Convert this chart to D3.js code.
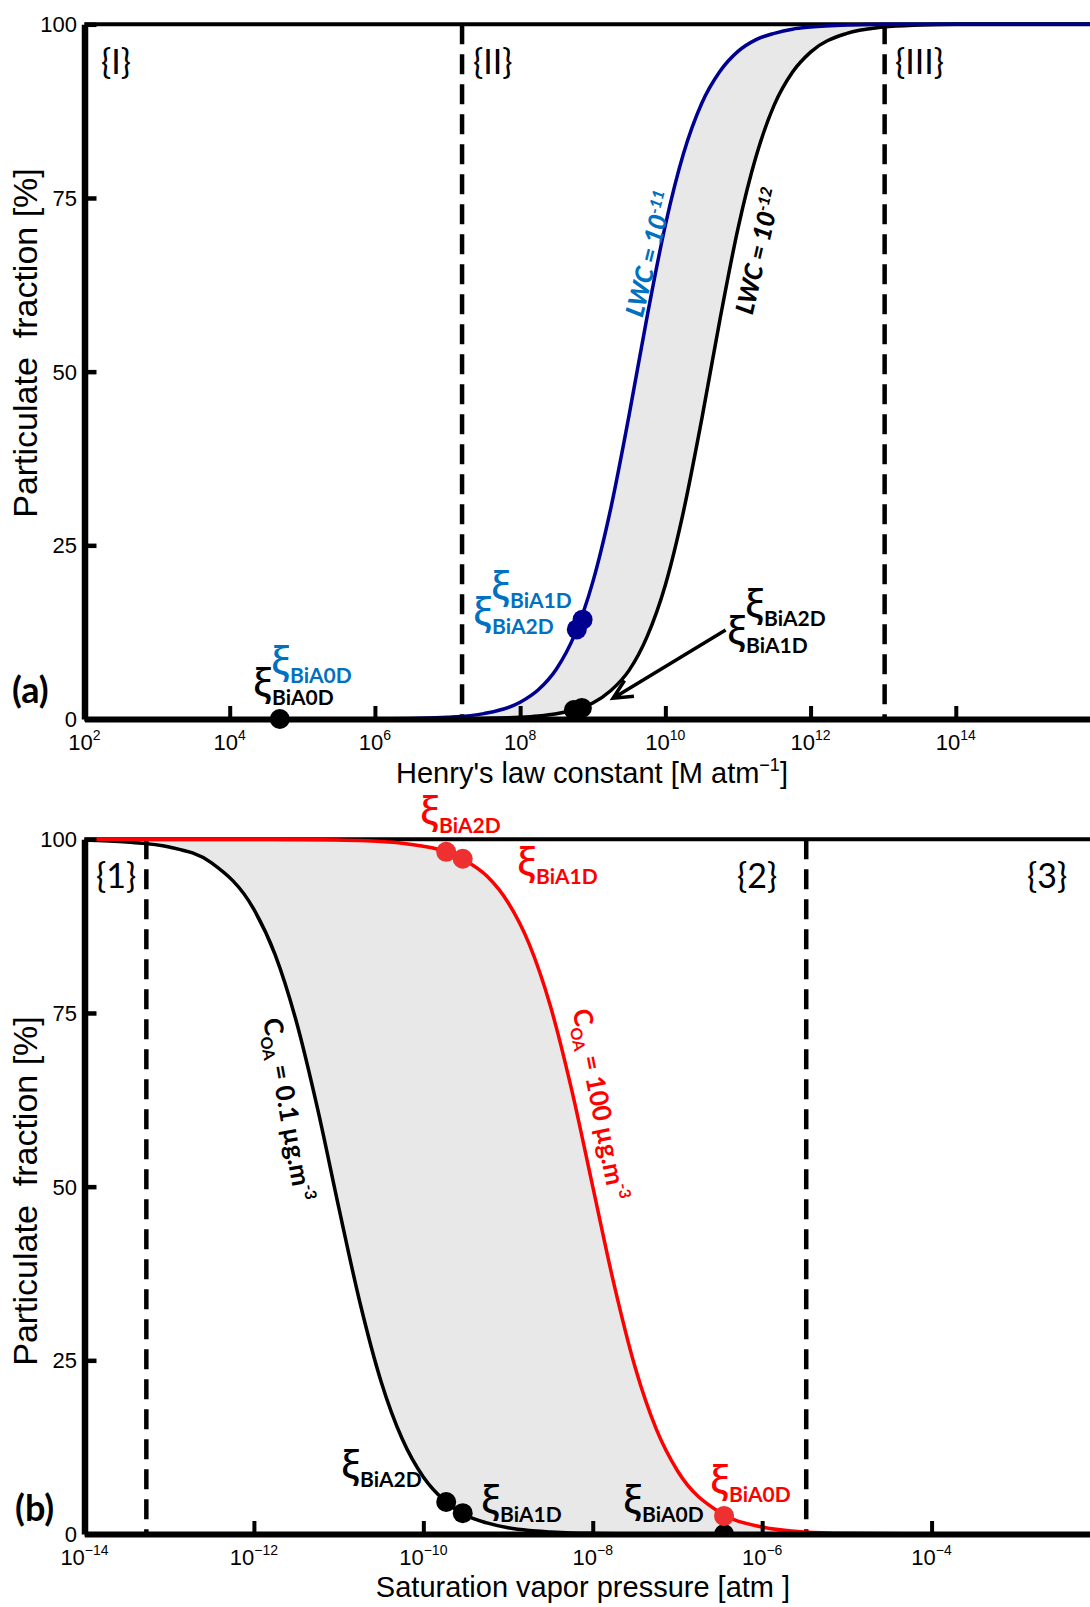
<!DOCTYPE html>
<html>
<head>
<meta charset="utf-8">
<script src="https://cdn.jsdelivr.net/npm/d3@7"></script>
<style>
  body { margin: 0; background: #fff; }
  svg { display: block; }
</style>
</head>
<body>
<div id="container"></div>
<script>
/* DATA */
// panel (a): log10 of Henry's law constant and particulate fraction [%]
const henryLog = [2, 4, 6, 6.5, 7, 7.5, 8, 8.25, 8.5, 8.75, 9, 9.25, 9.5, 9.75, 10, 10.25, 10.5, 10.75, 11, 11.25, 11.5, 11.75, 12, 12.5, 13, 13.5, 14, 16]
const fracLwc11 = [0, 0, 0.02, 0.08, 0.24, 0.77, 2.4, 4.2, 7.2, 12.1, 19.7, 30.4, 43.7, 58.0, 71.1, 81.4, 88.6, 93.2, 96.1, 97.8, 98.7, 99.3, 99.6, 99.9, 100, 100, 100, 100]
const fracLwc12 = [0, 0, 0, 0.01, 0.02, 0.08, 0.24, 0.43, 0.75, 1.33, 2.3, 4.1, 7.0, 11.9, 19.3, 29.9, 43.1, 57.4, 70.6, 81.0, 88.4, 93.1, 96.0, 98.7, 99.6, 99.9, 100, 100]
const henryTicks = [2, 4, 6, 8, 10, 12, 14]
const henryRegions = [7.2, 13.02]
const henryPointsLwc11 = [{ x: 8.86, f: 14.3 }, { x: 8.78, f: 12.9 }]
const henryPointsLwc12 = [{ x: 4.69, f: 0 }, { x: 8.74, f: 1.3 }, { x: 8.85, f: 1.6 }]

// panel (b): log10 of saturation vapor pressure [atm]
const pvapLog = [-14, -13.5, -13, -12.5, -12, -11.75, -11.5, -11.25, -11, -10.75, -10.5, -10.25, -10, -9.75, -9.5, -9.25, -9, -8.75, -8.5, -8.25, -8, -7.75, -7.5, -7.25, -7, -6.5, -6, -5.5, -5, -4, -2]
const fracCoa01 = [99.9, 99.6, 98.9, 96.6, 89.9, 83.4, 73.8, 61.3, 47.1, 33.4, 22.0, 13.7, 8.2, 4.8, 2.7, 1.6, 0.9, 0.5, 0.3, 0.16, 0.09, 0.05, 0.03, 0.02, 0.01, 0, 0, 0, 0, 0, 0]
const fracCoa100 = [100, 100, 100, 100, 100, 100, 99.97, 99.94, 99.9, 99.82, 99.68, 99.44, 99.0, 98.3, 96.9, 94.7, 90.9, 84.9, 76.0, 64.0, 50.0, 36.0, 24.0, 15.1, 9.1, 3.1, 1.0, 0.3, 0.1, 0.01, 0]
const pvapTicks = [-14, -12, -10, -8, -6, -4]
const pvapRegions = [-13.27, -5.48]
const pvapPointsCoa01 = [{ x: -9.73, f: 4.6 }, { x: -9.535, f: 3.0 }, { x: -6.45, f: 0 }]
const pvapPointsCoa100 = [{ x: -9.73, f: 98.2 }, { x: -9.535, f: 97.2 }, { x: -6.45, f: 2.6 }]

const yTicks = [0, 25, 50, 75, 100]

/* CONSTANTS */
const width = 1090, height = 1607
const left = 84.5, right = 1101
const labelFont = "Lato, 'Noto Sans', sans-serif"
const xiFont = "'Noto Sans', 'DejaVu Sans', sans-serif"
const axisFont = "'Liberation Sans', Arial, sans-serif"
const navy = "#000090", lightBlue = "#0070C0", red = "#ff0000", redDot = "#ee3030"

const svg = d3.select("#container").append("svg")
  .attr("width", width).attr("height", height)

function panel(opt) {
  const x = d3.scaleLog().domain([10 ** opt.dom[0], 10 ** opt.dom[1]]).range([left, right])
  const y = d3.scaleLinear().domain([0, 100]).range([opt.y0, opt.y100])
  const X = v => x(10 ** v)
  const g = svg.append("g")

  // fill between the two curves
  const rows = opt.xs.map((v, i) => ({ v, a: opt.c1[i], b: opt.c2[i] }))
  g.append("path").datum(rows)
    .attr("fill", "#e8e8e8")
    .attr("d", d3.area().curve(d3.curveMonotoneX).x(d => X(d.v)).y0(d => y(d.a)).y1(d => y(d.b)))

  // dashed region limits
  g.selectAll(".region").data(opt.regions).join("line")
    .attr("x1", d => X(d)).attr("x2", d => X(d))
    .attr("y1", y(100)).attr("y2", y(0))
    .attr("stroke", "#000").attr("stroke-width", 4.5).attr("stroke-dasharray", "20,10")

  // top frame line
  g.append("line").attr("x1", left).attr("x2", right).attr("y1", y(100)).attr("y2", y(100))
    .attr("stroke", "#000").attr("stroke-width", 4)

  const clipId = "clip" + opt.id
  svg.append("clipPath").attr("id", clipId).append("rect")
    .attr("x", 0).attr("y", y(100) - 6).attr("width", width).attr("height", y(0) - y(100) + 6 + opt.clipExtra)
  const inner = g.append("g").attr("clip-path", `url(#${clipId})`)

  const line = d3.line().curve(d3.curveMonotoneX).x(d => X(d[0])).y(d => y(d[1]))
  inner.append("path").datum(opt.xs.map((v, i) => [v, opt.c2[i]]))
    .attr("fill", "none").attr("stroke", opt.col2).attr("stroke-width", 3.5).attr("d", line)
  inner.append("path").datum(opt.xs.map((v, i) => [v, opt.c1[i]]))
    .attr("fill", "none").attr("stroke", opt.col1).attr("stroke-width", 3.5).attr("d", line)

  inner.selectAll(".p2").data(opt.p2).join("circle")
    .attr("cx", d => X(d.x)).attr("cy", d => y(d.f)).attr("r", 10).attr("fill", opt.dot2)
  inner.selectAll(".p1").data(opt.p1).join("circle")
    .attr("cx", d => X(d.x)).attr("cy", d => y(d.f)).attr("r", 10).attr("fill", opt.dot1)

  // axes
  const xAxis = d3.axisBottom(x).tickValues(opt.ticks.map(t => 10 ** t)).tickSize(-13).tickSizeOuter(0).tickFormat("")
  const gx = g.append("g").attr("transform", `translate(0,${y(0)})`).call(xAxis)
  gx.select(".domain").attr("stroke-width", 6)
  gx.selectAll(".tick line").attr("stroke-width", 4)

  const yAxis = d3.axisLeft(y).tickValues(yTicks).tickSize(-12).tickSizeOuter(0).tickFormat("")
  const gy = g.append("g").attr("transform", `translate(${left},0)`).call(yAxis)
  gy.select(".domain").attr("stroke-width", 6.5)
  gy.selectAll(".tick line").attr("stroke-width", 4.5)

  // tick labels
  g.selectAll(".ylab").data(yTicks).join("text")
    .attr("x", 77).attr("y", d => y(d)).attr("dy", "0.36em")
    .attr("text-anchor", "end").attr("font-family", axisFont).attr("font-size", 22)
    .text(d => d)
  const xl = g.selectAll(".xlab").data(opt.ticks).join("text")
    .attr("x", d => X(d)).attr("y", y(0) + 31)
    .attr("text-anchor", "middle").attr("font-family", axisFont).attr("font-size", 22)
  xl.append("tspan").text("10")
  xl.append("tspan").attr("font-size", 14).attr("dy", -10)
    .text(d => (d < 0 ? "\u2212" + (-d) : d))

  // axis titles
  g.append("text")
    .attr("transform", `translate(37,${opt.yLabelC}) rotate(-90)`)
    .attr("text-anchor", "middle").attr("font-family", axisFont).attr("font-size", 34)
    .attr("xml:space", "preserve")
    .text("Particulate  fraction [%]")

  return { g, x, y, X }
}

// xi label: px = left edge, sb = baseline of the subscript
function xi(g, px, sb, sub, color) {
  const t = g.append("text").attr("x", px).attr("y", sb - 9).attr("fill", color)
  t.append("tspan").attr("font-family", xiFont).attr("font-size", 38).attr("font-weight", 500).text("\u03BE")
  t.append("tspan").attr("font-family", labelFont).attr("font-size", 21).attr("font-weight", "bold")
    .attr("dx", 0).attr("dy", 9).text(sub)
}

function plain(g, px, py, txt, size, weight) {
  g.append("text").attr("x", px).attr("y", py).attr("font-family", labelFont)
    .attr("font-size", size).attr("font-weight", weight || "normal").text(txt)
}

/* PANEL (a) */
const A = panel({
  id: "a", dom: [2, 16], y0: 719, y100: 24.3, xs: henryLog,
  c1: fracLwc11, c2: fracLwc12, col1: navy, col2: "#000",
  p1: henryPointsLwc11, p2: henryPointsLwc12, dot1: navy, dot2: "#000",
  regions: henryRegions, ticks: henryTicks, yLabelC: 343, clipExtra: 40
})

const ta = A.g.append("text").attr("x", 592).attr("y", 783).attr("text-anchor", "middle")
  .attr("font-family", axisFont).attr("font-size", 29)
ta.append("tspan").text("Henry's law constant [M atm")
ta.append("tspan").attr("font-size", 18).attr("dy", -12).text("\u22121")
ta.append("tspan").attr("dy", 12).text("]")

plain(A.g, 101, 74, "{I}", 34)
plain(A.g, 473, 74, "{II}", 34)
plain(A.g, 895, 74, "{III}", 34)
plain(A.g, 12, 703, "(a)", 36, "bold")

xi(A.g, 271, 683, "BiA0D", lightBlue)
xi(A.g, 253, 705, "BiA0D", "#000")
xi(A.g, 491, 608, "BiA1D", lightBlue)
xi(A.g, 473, 634, "BiA2D", lightBlue)
xi(A.g, 745, 626, "BiA2D", "#000")
xi(A.g, 727, 653, "BiA1D", "#000")

// arrow pointing to the LWC 10^-12 dots
{
  const x1 = A.X(10.83), y1 = A.y(12.8), x2 = A.X(9.28), y2 = A.y(3.0)
  const ang = Math.atan2(y2 - y1, x2 - x1), L = 21, w = 0.45
  A.g.append("path")
    .attr("d", `M${x1},${y1}L${x2},${y2}M${x2 - L * Math.cos(ang - w)},${y2 - L * Math.sin(ang - w)}L${x2},${y2}L${x2 - L * Math.cos(ang + w)},${y2 - L * Math.sin(ang + w)}`)
    .attr("fill", "none").attr("stroke", "#000").attr("stroke-width", 3.5)
}

function lwcLabel(g, cx, cy, rot, color, exp) {
  const t = g.append("text").attr("transform", `translate(${cx},${cy}) rotate(${rot})`)
    .attr("text-anchor", "middle").attr("fill", color).attr("font-family", labelFont)
    .attr("font-weight", 900).attr("font-style", "italic").attr("font-size", 25)
  t.append("tspan").text("LWC = 10")
  t.append("tspan").attr("font-size", 16).attr("dy", -9).text(exp)
}
lwcLabel(A.g, 658, 256, -76, lightBlue, "-11")
lwcLabel(A.g, 767, 253, -77, "#000", "-12")

/* PANEL (b) */
const B = panel({
  id: "b", dom: [-14, -2], y0: 1534, y100: 839.3, xs: pvapLog,
  c1: fracCoa100, c2: fracCoa01, col1: red, col2: "#000",
  p1: pvapPointsCoa100, p2: pvapPointsCoa01, dot1: redDot, dot2: "#000",
  regions: pvapRegions, ticks: pvapTicks, yLabelC: 1191, clipExtra: 0
})

B.g.append("text").attr("x", 583).attr("y", 1597).attr("text-anchor", "middle")
  .attr("font-family", axisFont).attr("font-size", 29)
  .attr("xml:space", "preserve")
  .text("Saturation vapor pressure [atm ]")

plain(B.g, 96, 888, "{1}", 34)
plain(B.g, 737, 888, "{2}", 34)
plain(B.g, 1027, 888, "{3}", 34)
plain(B.g, 15, 1521, "(b)", 36, "bold")

xi(B.g, 420, 833, "BiA2D", red)
xi(B.g, 517, 884, "BiA1D", red)
xi(B.g, 341, 1487, "BiA2D", "#000")
xi(B.g, 481, 1522, "BiA1D", "#000")
xi(B.g, 623, 1522, "BiA0D", "#000")
xi(B.g, 710, 1502, "BiA0D", red)

function coaLabel(g, cx, cy, rot, color, val) {
  const t = g.append("text").attr("transform", `translate(${cx},${cy}) rotate(${rot})`)
    .attr("text-anchor", "middle").attr("fill", color).attr("font-family", labelFont)
    .attr("font-weight", "bold").attr("font-size", 26)
  t.append("tspan").text("C")
  t.append("tspan").attr("font-size", 16).attr("dy", 6).text("OA")
  t.append("tspan").attr("dy", -6).text(` = ${val} \u00B5g.m`)
  t.append("tspan").attr("font-size", 16).attr("dy", -11).text("-3")
}
coaLabel(B.g, 279, 1111, 80, "#000", "0.1")
coaLabel(B.g, 591, 1106, 79, red, "100")
</script>
</body>
</html>
